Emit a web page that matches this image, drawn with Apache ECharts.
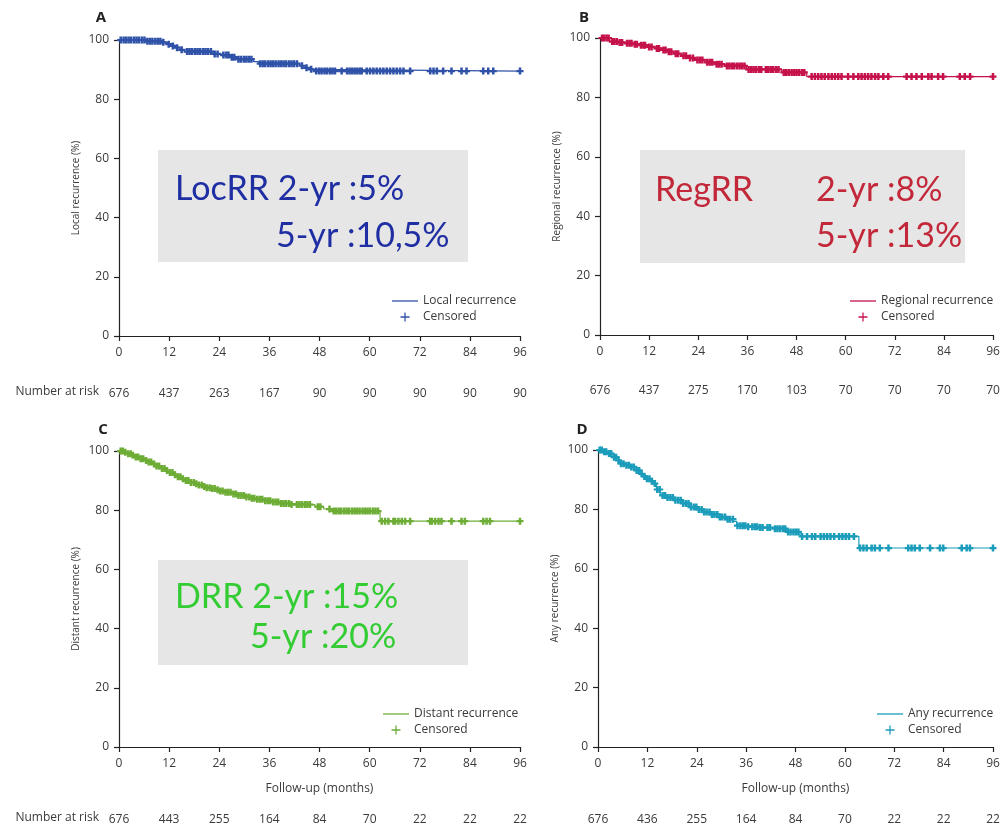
<!DOCTYPE html>
<html><head><meta charset="utf-8">
<script src="https://cdn.jsdelivr.net/npm/echarts@6/dist/echarts.min.js"></script>
<style>html,body{margin:0;padding:0;background:#fff}#c{width:1003px;height:837px}</style>
</head><body><div id="c"></div>
<script>
// ---------------- DATA ----------------
const xTickLabels = [0, 12, 24, 36, 48, 60, 72, 84, 96];

const riskA = [676, 437, 263, 167, 90, 90, 90, 90, 90];
const riskB = [676, 437, 275, 170, 103, 70, 70, 70, 70];
const riskC = [676, 443, 255, 164, 84, 70, 22, 22, 22];
const riskD = [676, 436, 255, 164, 84, 70, 22, 22, 22];

// Kaplan-Meier step points (month, % free of recurrence)
const timesA = [0, 6.6, 10.2, 11.5, 12.5, 13.5, 14.6, 15.8, 22.6, 24.2, 26.6, 28.2, 32.2, 33.4, 43.3, 44.6, 45.5, 46.6, 96];
const survA  = [100, 99.6, 99.2, 98.6, 98.0, 97.4, 96.7, 96.1, 95.3, 94.9, 94.2, 93.5, 92.7, 92.0, 91.3, 90.6, 90.1, 89.5, 89.5];
const censorA = [0.4,1.1,1.7,2.3,2.9,3.6,4.2,4.8,5.5,6.1,6.8,7.4,8.0,8.7,9.3,9.9,10.6,11.9,12.9,13.9,15.0,16.3,16.9,17.5,18.2,18.8,19.4,20.1,20.7,21.3,22.0,22.9,23.6,25.0,25.7,26.2,27.0,27.6,28.6,29.2,29.9,30.5,31.1,31.7,33.8,34.4,35.0,35.7,36.3,36.9,37.5,38.2,38.8,39.4,40.0,40.7,41.3,41.9,42.6,43.8,44.9,46.0,47.2,47.9,48.5,49.2,49.8,50.5,51.1,51.7,53.3,54.6,55.2,55.8,56.4,57.0,57.6,58.1,59.3,60.1,60.9,61.7,62.5,63.3,64.1,64.9,65.7,66.5,67.3,68.1,69.7,74.5,75.3,76.1,77.6,79.6,82.0,83.2,87.2,88.4,89.6,96];

const timesB = [0, 2.4, 4.5, 6.1, 8.0, 9.4, 11.5, 13.4, 15.0, 16.3, 18.0, 19.9, 21.5, 23.2, 25.6, 28.0, 30.5, 35.8, 44.4, 50.5, 96];
const survB  = [100, 98.8, 98.5, 98.2, 97.9, 97.6, 97.0, 96.5, 96.0, 95.4, 94.7, 94.0, 93.3, 92.6, 91.8, 91.2, 90.6, 89.4, 88.4, 87.0, 87.0];
const censorB = [0.5,1.0,1.6,2.1,3.0,3.5,4.1,4.8,5.4,6.6,7.2,7.7,8.5,9.0,10.0,10.6,11.0,12.0,12.6,13.9,14.4,15.5,16.0,16.8,17.4,18.5,19.1,20.4,21.0,22.0,22.7,23.8,24.4,25.0,26.2,26.8,27.4,28.5,29.1,29.7,31.0,31.6,32.2,32.8,33.5,34.1,34.7,35.3,36.3,36.9,37.5,38.1,38.8,39.4,40.5,41.1,41.7,42.3,43.0,43.6,44.9,45.5,46.1,46.8,47.4,48.0,48.6,49.3,49.9,51.7,52.5,53.3,54.1,54.9,55.8,56.6,57.4,58.2,59.0,60.6,61.9,63.1,63.9,64.7,65.5,66.3,67.2,68.0,69.2,70.4,74.9,76.1,77.3,78.6,80.2,81.0,82.6,83.8,87.9,89.1,90.4,96];

const timesC = [0, 1, 2, 3, 4, 5, 6, 7, 8, 9, 10, 11, 12, 13, 14, 15, 16, 17, 18, 19, 20, 21, 22, 23, 24, 25.4, 27, 28.6, 30, 31.5, 32.6, 34.5, 36.5, 38.5, 41, 46.9, 49, 51, 62.5, 96];
const survC  = [100, 99.6, 99.1, 98.6, 98.0, 97.4, 96.8, 96.3, 95.6, 94.9, 94.1, 93.4, 92.7, 92.0, 91.3, 90.6, 90.0, 89.4, 88.9, 88.5, 88.0, 87.6, 87.3, 86.9, 86.5, 86.1, 85.5, 85.0, 84.5, 84.0, 83.7, 83.2, 82.8, 82.3, 81.9, 81.2, 80.4, 79.7, 76.3, 76.3];
const censorC = [0.4,0.9,1.5,2.2,2.8,3.3,4.0,4.6,5.2,5.8,6.5,7.1,7.7,8.4,9.0,9.6,10.3,10.9,11.5,12.2,12.8,13.4,14.1,14.7,15.3,16.0,16.6,17.2,17.9,18.5,19.1,19.8,20.4,21.0,21.7,22.3,22.9,23.6,24.2,24.8,25.5,26.1,26.7,27.4,28.0,28.6,29.3,29.9,30.5,31.2,31.8,32.4,33.1,33.7,34.3,35.0,35.6,36.2,36.9,37.5,38.1,38.8,39.4,40.0,40.7,41.3,42.6,43.2,43.8,44.5,45.1,45.7,47.6,48.2,50.4,51.4,52.0,52.6,53.2,53.9,54.5,55.1,55.8,56.4,57.0,57.6,58.3,58.9,59.5,60.1,60.8,61.4,62.0,62.9,63.7,64.5,65.7,66.1,66.9,67.7,68.5,69.7,74.5,74.9,75.7,76.5,77.2,79.6,82.0,82.8,87.2,88.0,88.8,96];

const timesD = [0, 1.2, 2.5, 3.7, 4.5, 5.3, 6.5, 7.8, 9.0, 10.2, 11.0, 11.8, 12.6, 13.4, 14.2, 15.1, 16.5, 18.3, 20.3, 22.4, 24.0, 25.6, 27.5, 29.6, 31.2, 32.9, 33.7, 36.5, 39.0, 42.0, 45.8, 49.1, 63.4, 96];
const survD  = [100, 99.4, 98.8, 97.6, 96.5, 95.4, 94.9, 94.3, 93.1, 92.0, 91.1, 90.3, 89.5, 88.7, 86.7, 84.7, 84.0, 83.1, 82.0, 80.8, 80.0, 79.1, 78.3, 77.4, 76.7, 76.0, 74.5, 74.2, 73.9, 73.5, 72.4, 70.9, 67.0, 67.0];
const censorD = [0.4,0.9,1.5,2.0,2.7,3.2,3.9,4.4,5.0,5.6,6.2,6.9,7.5,8.1,8.7,9.4,10.0,10.6,11.3,11.9,12.5,13.1,13.8,14.4,15.0,15.7,16.3,16.9,17.6,18.2,18.8,19.5,20.1,20.7,21.4,22.0,22.6,23.3,23.9,24.5,25.2,25.8,26.4,27.1,27.7,28.3,29.0,29.6,30.2,30.9,31.5,32.1,32.8,33.9,34.6,35.2,35.8,36.5,37.5,38.1,38.7,39.4,40.0,41.2,41.8,43.0,43.6,44.2,44.9,45.5,46.2,46.8,47.5,48.1,48.7,49.6,50.8,52.0,52.8,54.1,54.9,55.7,56.5,57.4,58.6,59.4,60.2,61.0,62.2,63.7,64.5,65.3,66.5,67.3,68.5,70.6,75.4,76.2,77.0,78.2,80.7,83.1,83.9,88.4,89.6,90.4,96];

// ---------------- CHART ----------------
function survAt(times, surv, t) {
  let v = surv[0];
  for (let i = 0; i < times.length; i++) { if (times[i] <= t) v = surv[i]; }
  return v;
}
const plus = 'path://M3.2,0L6.8,0L6.8,3.4L10,3.4L10,6.6L6.8,6.6L6.8,10L3.2,10L3.2,6.6L0,6.6L0,3.4L3.2,3.4Z';
const plusThin = 'path://M4.3,0L5.7,0L5.7,4.3L10,4.3L10,5.7L5.7,5.7L5.7,10L4.3,10L4.3,5.7L0,5.7L0,4.3L4.3,4.3Z';
const lineIcon = 'path://M0,0L100,0L100,5L0,5Z';
const FONT = '"Open Sans", sans-serif';
const LBL = '#3a3a3a';

const panels = [
  {times: timesA, surv: survA, cens: censorA, risk: riskA, name: 'Local recurrence', yName: 'Local recurrence (%)', color: '#2f52a8',
   grid: {left: 119, top: 40, width: 401, height: 296}, riskOffset: 52, xName: '',
   legend: {left: 392, top: 295}},
  {times: timesB, surv: survB, cens: censorB, risk: riskB, name: 'Regional recurrence', yName: 'Regional recurrence (%)', color: '#c5124b',
   grid: {left: 600, top: 38, width: 393, height: 297}, riskOffset: 50, xName: '',
   legend: {left: 850, top: 295}},
  {times: timesC, surv: survC, cens: censorC, risk: riskC, name: 'Distant recurrence', yName: 'Distant recurrence (%)', color: '#6dad36',
   grid: {left: 119, top: 451, width: 401, height: 296}, riskOffset: 67, xName: 'Follow-up (months)',
   legend: {left: 383, top: 708}},
  {times: timesD, surv: survD, cens: censorD, risk: riskD, name: 'Any recurrence', yName: 'Any recurrence (%)', color: '#1b9cba',
   grid: {left: 598, top: 450, width: 395, height: 297}, riskOffset: 67, xName: 'Follow-up (months)',
   legend: {left: 877, top: 708}}
];

const grid = [], xAxis = [], yAxis = [], series = [], legend = [];
panels.forEach((p, i) => {
  grid.push(p.grid);
  xAxis.push({
    type: 'value', gridIndex: i, min: 0, max: 96, interval: 12,
    axisLine: {show: true, onZero: false, lineStyle: {color: '#222', width: 1.2}},
    axisTick: {show: true, length: 5, lineStyle: {color: '#222', width: 1.2}},
    axisLabel: {margin: 11, color: LBL, fontSize: 12, fontFamily: FONT},
    splitLine: {show: false},
    name: p.xName, nameLocation: 'middle', nameGap: 36,
    nameTextStyle: {color: LBL, fontSize: 12, fontFamily: FONT}
  });
  xAxis.push({
    type: 'value', gridIndex: i, min: 0, max: 96, interval: 12, position: 'bottom', offset: p.riskOffset,
    axisLine: {show: false}, axisTick: {show: false}, splitLine: {show: false},
    axisLabel: {margin: 0, color: LBL, fontSize: 12, fontFamily: FONT,
      formatter: v => String(p.risk[xTickLabels.indexOf(v)])}
  });
  yAxis.push({
    type: 'value', gridIndex: i, min: 0, max: 100, interval: 20,
    axisLine: {show: true, lineStyle: {color: '#222', width: 1.2}},
    axisTick: {show: true, length: 5, lineStyle: {color: '#222', width: 1.2}},
    axisLabel: {margin: 10, color: LBL, fontSize: 12, fontFamily: FONT},
    splitLine: {show: false},
    name: p.yName, nameLocation: 'middle', nameGap: 38,
    nameTextStyle: {color: LBL, fontSize: 10, fontFamily: FONT}
  });
  series.push({
    type: 'line', name: p.name, xAxisIndex: 2 * i, yAxisIndex: i, step: 'end', symbol: 'none',
    data: p.times.map((t, k) => [t, p.surv[k]]),
    lineStyle: {color: p.color, width: 1.2}, itemStyle: {color: p.color}, z: 2, silent: true
  });
  series.push({
    type: 'scatter', name: 'Censored ' + i, xAxisIndex: 2 * i, yAxisIndex: i,
    symbol: plus, symbolSize: [7, 7],
    data: p.cens.map(t => [t, survAt(p.times, p.surv, t)]),
    itemStyle: {color: p.color, opacity: 1}, z: 3, silent: true
  });
  legend.push({
    orient: 'vertical', left: p.legend.left, top: p.legend.top, padding: 0, itemGap: 4,
    itemWidth: 26, itemHeight: 9, selectedMode: false, symbolKeepAspect: true,
    data: [{name: p.name, icon: lineIcon}, {name: 'Censored ' + i, icon: plusThin}],
    formatter: n => n.indexOf('Censored') === 0 ? 'Censored' : n,
    textStyle: {color: LBL, fontSize: 12, fontFamily: FONT}
  });
});

const T = (x, y, text, color) => ({type: 'text', x: x, y: y, z: 20,
  style: {text: text, fill: color, font: '34px Lato, sans-serif', verticalAlign: 'middle'}});
const letter = (x, y, t) => ({type: 'text', x: x, y: y, z: 20,
  style: {text: t, fill: '#222', font: 'bold 15px "Open Sans", sans-serif', verticalAlign: 'middle', align: 'center'}});
const small = (x, y, t) => ({type: 'text', x: x, y: y, z: 20,
  style: {text: t, fill: LBL, font: '12px "Open Sans", sans-serif', verticalAlign: 'middle', align: 'right'}});

const graphic = [
  letter(101, 18, 'A'), letter(584, 18, 'B'), letter(103, 430, 'C'), letter(582, 430, 'D'),
  small(99, 392, 'Number at risk'), small(99, 818, 'Number at risk'),
  {type: 'rect', z: 10, shape: {x: 158, y: 150, width: 310, height: 112}, style: {fill: '#e6e6e6'}},
  {type: 'rect', z: 10, shape: {x: 640, y: 150, width: 325, height: 113}, style: {fill: '#e6e6e6'}},
  {type: 'rect', z: 10, shape: {x: 158, y: 560, width: 310, height: 105}, style: {fill: '#e6e6e6'}},
  T(175, 189, 'LocRR 2-yr :5%', '#1f2fa3'),
  T(276, 236, '5-yr :10,5%', '#1f2fa3'),
  T(655, 190, 'RegRR', '#c22839'),
  T(816, 190, '2-yr :8%', '#c22839'),
  T(816, 236, '5-yr :13%', '#c22839'),
  T(175, 597, 'DRR 2-yr :15%', '#33cc33'),
  T(250, 637, '5-yr :20%', '#33cc33')
];

const chart = echarts.init(document.getElementById('c'), null, {renderer: 'canvas'});
chart.setOption({animation: false, backgroundColor: '#fff', grid, xAxis, yAxis, series, legend, graphic});
</script>
</body></html>
